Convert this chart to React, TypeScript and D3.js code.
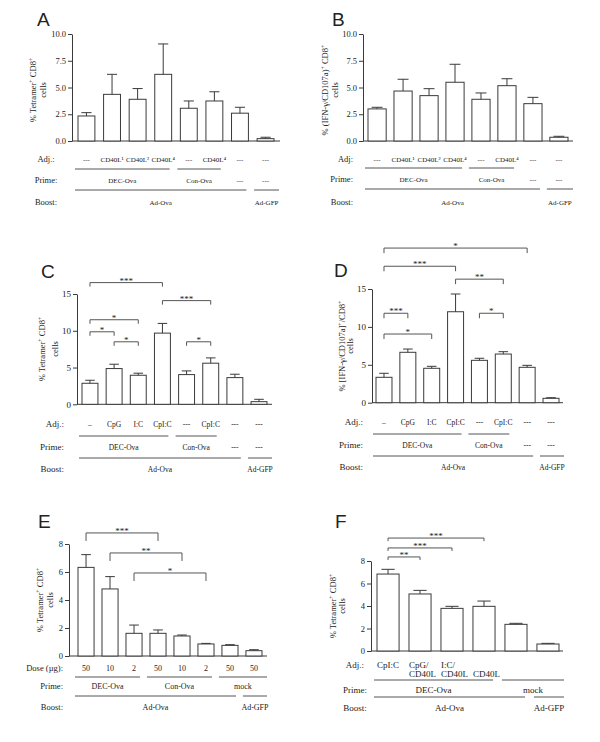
import React, { useEffect, useRef } from "react";
import * as d3 from "d3";

// ---------- data ----------
// A: % Tetramer+ CD8+
const aMeans = [2.34, 4.36, 3.9, 6.23, 3.06, 3.74, 2.6, 0.22];
const aErrors = [0.31, 1.87, 1.0, 2.84, 0.68, 0.86, 0.55, 0.13];
const aAdj = ["---", "CD40L¹", "CD40L²", "CD40L⁴", "---", "CD40L⁴", "---", "---"];

// B: % (IFN-g/CD107a)+ CD8+
const bMeans = [3.0, 4.67, 4.24, 5.49, 3.9, 5.17, 3.49, 0.35];
const bErrors = [0.15, 1.1, 0.65, 1.68, 0.59, 0.65, 0.59, 0.09];
const bAdj = ["---", "CD40L¹", "CD40L²", "CD40L⁴", "---", "CD40L⁴", "---", "---"];

// C: % Tetramer+ CD8+
const cMeans = [2.86, 4.86, 3.95, 9.68, 4.04, 5.59, 3.63, 0.36];
const cErrors = [0.41, 0.59, 0.28, 1.32, 0.5, 0.72, 0.46, 0.32];
const cAdj = ["–", "CpG", "I:C", "CpI:C", "---", "CpI:C", "---", "---"];

// D: % [IFN-g/CD107a]+/CD8+
const dMeans = [3.35, 6.65, 4.54, 12.0, 5.59, 6.42, 4.67, 0.58];
const dErrors = [0.53, 0.43, 0.26, 2.34, 0.27, 0.31, 0.26, 0.08];
const dAdj = ["–", "CpG", "I:C", "CpI:C", "---", "CpI:C", "---", "---"];

// E: dose titration
const eMeans = [6.33, 4.79, 1.62, 1.62, 1.43, 0.86, 0.76, 0.38];
const eErrors = [0.91, 0.88, 0.59, 0.24, 0.07, 0.04, 0.05, 0.07];
const eDose = ["50", "10", "2", "50", "10", "2", "50", "50"];

// F: adjuvant combinations
const fMeans = [6.84, 5.07, 3.79, 3.97, 2.37, 0.62];
const fErrors = [0.42, 0.32, 0.18, 0.47, 0.09, 0.06];
const fAdj = ["CpI:C", "CpG/\nCD40L", "I:C/\nCD40L", "\nCD40L", "", ""];

type Group = { label: string; from: number; to: number; line: boolean };
type Bracket = { from: number; to: number; at: number; label: string };

const primeAB: Group[] = [
  { label: "DEC-Ova", from: 0, to: 3, line: true },
  { label: "Con-Ova", from: 4, to: 5, line: true },
  { label: "---", from: 6, to: 6, line: false },
  { label: "---", from: 7, to: 7, line: false },
];
const boostAD: Group[] = [
  { label: "Ad-Ova", from: 0, to: 6, line: true },
  { label: "Ad-GFP", from: 7, to: 7, line: true },
];
const primeE: Group[] = [
  { label: "DEC-Ova", from: 0, to: 2, line: true },
  { label: "Con-Ova", from: 3, to: 5, line: true },
  { label: "mock", from: 6, to: 7, line: true },
];
const primeF: Group[] = [
  { label: "DEC-Ova", from: 0, to: 3, line: true },
  { label: "mock", from: 4, to: 5, line: true },
];
const boostF: Group[] = [
  { label: "Ad-Ova", from: 0, to: 4, line: true },
  { label: "Ad-GFP", from: 5, to: 5, line: true },
];

const cBrackets: Bracket[] = [
  { from: 0, to: 3, at: 16.55, label: "***" },
  { from: 3, to: 5, at: 14.1, label: "***" },
  { from: 0, to: 2, at: 11.5, label: "*" },
  { from: 0, to: 1, at: 9.86, label: "*" },
  { from: 1, to: 2, at: 8.5, label: "*" },
  { from: 4, to: 5, at: 8.5, label: "*" },
];
const dBrackets: Bracket[] = [
  { from: 0, to: 6, at: 20.4, label: "*" },
  { from: 0, to: 3, at: 18.0, label: "***" },
  { from: 3, to: 5, at: 16.3, label: "**" },
  { from: 0, to: 1, at: 11.8, label: "***" },
  { from: 0, to: 2, at: 9.06, label: "*" },
  { from: 4, to: 5, at: 11.8, label: "*" },
];
const eBrackets: Bracket[] = [
  { from: 0, to: 3, at: 8.79, label: "***" },
  { from: 1, to: 4, at: 7.36, label: "**" },
  { from: 2, to: 5, at: 5.93, label: "*" },
];
const fBrackets: Bracket[] = [
  { from: 0, to: 3, at: 10.04, label: "***" },
  { from: 0, to: 2, at: 9.16, label: "***" },
  { from: 0, to: 1, at: 8.36, label: "**" },
];

const SERIF = "'Liberation Serif', 'Times New Roman', serif";
const SANS = "'Liberation Sans', Arial, sans-serif";
const INK = "#3a3a3a";
const TEXT = "#222";

// "^" toggles superscript
function sup(s: string) {
  return s.split("^").map((t, i) =>
    i % 2 ? (
      <tspan key={i} baselineShift="super" fontSize="70%">{t}</tspan>
    ) : (
      <tspan key={i}>{t}</tspan>
    )
  );
}

interface PanelProps {
  letter: string; letterX: number; letterY: number;
  means: number[]; errors: number[];
  yMax: number; yTicks: number[]; tickFormat: string;
  axisX: number; axisEnd: number; y0: number; yTop: number;
  barLeft: number; barRight: number; padding: number;
  yLabel: string[]; yLabelX: number[]; yLabelY: number;
  rowNames: string[]; rowNameX: number; rowNameAnchor: string;
  rowY: number[]; // adj, adj 2nd line, prime line, prime, boost line, boost
  adj: string[]; adjAnchor: string;
  prime: Group[]; boost: Group[];
  brackets: Bracket[]; tickLen: number;
  tickFont: number; rowFont: number; labelFont: number; yLabelFont: number;
}

function Panel(p: PanelProps) {
  const axisRef = useRef<SVGGElement>(null);
  const n = p.means.length;
  const y = d3.scaleLinear().domain([0, p.yMax]).range([p.y0, p.yTop]);
  const x = d3.scaleBand<number>().domain(d3.range(n)).range([p.barLeft, p.barRight]).paddingInner(p.padding).paddingOuter(0);
  const bw = x.bandwidth();
  const cx = (i: number) => (x(i) as number) + bw / 2;

  useEffect(() => {
    const g = d3.select(axisRef.current);
    g.call(
      d3.axisLeft(y)
        .tickValues(p.yTicks)
        .tickFormat(d3.format(p.tickFormat) as any)
        .tickSize(4)
        .tickSizeOuter(0)
        .tickPadding(2)
    );
    g.attr("font-family", SERIF).attr("font-size", p.tickFont);
    g.selectAll("path, line").attr("stroke", INK);
    g.selectAll("text").attr("fill", TEXT);
  }, [p]);

  const groupLine = (gr: Group) => {
    const start = (x(gr.from) as number) - 3;
    const end = (x(gr.to) as number) + bw + (gr.to === n - 1 ? 5 : -2);
    return [start, end];
  };

  const groups = (list: Group[], lineY: number, textY: number, key: string) =>
    list.map((gr, i) => {
      const [s, e] = groupLine(gr);
      const mid = gr.line ? (s + e) / 2 : cx(gr.from);
      return (
        <g key={key + i}>
          {gr.line && <line x1={s} x2={e} y1={lineY} y2={lineY} stroke="#555" strokeWidth={1} />}
          <text x={mid} y={textY} textAnchor="middle" fontSize={p.labelFont}>{gr.label}</text>
        </g>
      );
    });

  return (
    <g fontFamily={SERIF} fill={TEXT}>
      <text x={p.letterX} y={p.letterY} fontFamily={SANS} fontSize={19}>{p.letter}</text>
      <g ref={axisRef} transform={`translate(${p.axisX},0)`} />
      <line x1={p.axisX} x2={p.axisEnd} y1={p.y0} y2={p.y0} stroke={INK} />
      {p.yLabel.map((l, i) => (
        <text key={i} transform={`translate(${p.yLabelX[i]},${p.yLabelY}) rotate(-90)`} textAnchor="middle" fontSize={p.yLabelFont}>
          {sup(l)}
        </text>
      ))}
      {p.means.map((m, i) => {
        const top = y(m);
        const et = y(m + p.errors[i]);
        const c = cx(i);
        const cap = bw * 0.3;
        return (
          <g key={i}>
            <rect x={x(i)} y={top} width={bw} height={p.y0 - top} fill="#fff" stroke={INK} />
            <line x1={c} x2={c} y1={top} y2={et} stroke={INK} />
            <line x1={c - cap} x2={c + cap} y1={et} y2={et} stroke={INK} />
          </g>
        );
      })}
      {p.brackets.map((b, i) => {
        const by = y(b.at);
        const x1 = cx(b.from);
        const x2 = cx(b.to);
        return (
          <g key={"b" + i}>
            <path d={`M${x1},${by + p.tickLen}V${by}H${x2}V${by + p.tickLen}`} fill="none" stroke="#555" />
            <text x={(x1 + x2) / 2} y={by + 1} textAnchor="middle" fontSize={9}>{b.label}</text>
          </g>
        );
      })}
      {p.rowNames.map((r, i) => (
        <text key={"r" + i} x={p.rowNameX} y={[p.rowY[0], p.rowY[3], p.rowY[5]][i]} textAnchor={p.rowNameAnchor as any} fontSize={p.rowFont}>
          {r}
        </text>
      ))}
      {p.adj.map((a, i) =>
        a.split("\n").map((part, j) => (
          <text
            key={"a" + i + "-" + j}
            x={p.adjAnchor === "start" ? (x(i) as number) : cx(i)}
            y={p.rowY[j]}
            textAnchor={p.adjAnchor as any}
            fontSize={p.labelFont}
          >
            {part}
          </text>
        ))
      )}
      {groups(p.prime, p.rowY[2], p.rowY[3], "p")}
      {groups(p.boost, p.rowY[4], p.rowY[5], "q")}
    </g>
  );
}

const tetLabel = ["% Tetramer^+^ CD8^+", "cells"];

const panels: PanelProps[] = [
  {
    letter: "A", letterX: 37, letterY: 26, means: aMeans, errors: aErrors,
    yMax: 10, yTicks: [0, 2.5, 5, 7.5, 10], tickFormat: ".1f",
    axisX: 72, axisEnd: 280, y0: 141, yTop: 34, barLeft: 78, barRight: 274, padding: 0.34,
    yLabel: tetLabel, yLabelX: [36, 46], yLabelY: 90,
    rowNames: ["Adj.:", "Prime:", "Boost:"], rowNameX: 46, rowNameAnchor: "middle",
    rowY: [162, 171, 169, 183, 190, 205], adj: aAdj, adjAnchor: "middle",
    prime: primeAB, boost: boostAD, brackets: [], tickLen: 4,
    tickFont: 8.5, rowFont: 8.5, labelFont: 7, yLabelFont: 8.5,
  },
  {
    letter: "B", letterX: 332, letterY: 26, means: bMeans, errors: bErrors,
    yMax: 10, yTicks: [0, 2.5, 5, 7.5, 10], tickFormat: ".1f",
    axisX: 363, axisEnd: 573, y0: 141, yTop: 34, barLeft: 368, barRight: 568, padding: 0.3,
    yLabel: ["% (IFN-γ/CD107a)^+^ CD8^+", "cells"], yLabelX: [328, 338], yLabelY: 90,
    rowNames: ["Adj:", "Prime:", "Boost:"], rowNameX: 353, rowNameAnchor: "end",
    rowY: [162, 171, 168, 182, 189, 205], adj: bAdj, adjAnchor: "middle",
    prime: primeAB, boost: boostAD, brackets: [], tickLen: 4,
    tickFont: 8.5, rowFont: 8.5, labelFont: 7, yLabelFont: 8.5,
  },
  {
    letter: "C", letterX: 41, letterY: 278, means: cMeans, errors: cErrors,
    yMax: 15, yTicks: [0, 5, 10, 15], tickFormat: "d",
    axisX: 77, axisEnd: 272, y0: 404.3, yTop: 294, barLeft: 82, barRight: 267, padding: 0.34,
    yLabel: tetLabel, yLabelX: [45, 58], yLabelY: 349,
    rowNames: ["Adj.:", "Prime:", "Boost:"], rowNameX: 64, rowNameAnchor: "end",
    rowY: [427, 436, 436, 450, 458, 472], adj: cAdj, adjAnchor: "middle",
    prime: primeAB, boost: boostAD, brackets: cBrackets, tickLen: 4,
    tickFont: 9, rowFont: 9, labelFont: 7.5, yLabelFont: 8.5,
  },
  {
    letter: "D", letterX: 334, letterY: 277, means: dMeans, errors: dErrors,
    yMax: 15, yTicks: [0, 5, 10, 15], tickFormat: "d",
    axisX: 372, axisEnd: 563, y0: 402.7, yTop: 289, barLeft: 376, barRight: 559, padding: 0.33,
    yLabel: ["% [IFN-γ/CD107a]^+^/CD8^+", "cells"], yLabelX: [345, 353], yLabelY: 346,
    rowNames: ["Adj.:", "Prime:", "Boost:"], rowNameX: 363, rowNameAnchor: "end",
    rowY: [425, 434, 434, 448, 456, 470], adj: dAdj, adjAnchor: "middle",
    prime: primeAB, boost: boostAD, brackets: dBrackets, tickLen: 5,
    tickFont: 9, rowFont: 9, labelFont: 7.5, yLabelFont: 8.5,
  },
  {
    letter: "E", letterX: 38, letterY: 528, means: eMeans, errors: eErrors,
    yMax: 8, yTicks: [0, 2, 4, 6, 8], tickFormat: "d",
    axisX: 69, axisEnd: 267, y0: 656, yTop: 544, barLeft: 78, barRight: 262, padding: 0.33,
    yLabel: tetLabel, yLabelX: [43, 53], yLabelY: 600,
    rowNames: ["Dose (µg):", "Prime:", "Boost:"], rowNameX: 63, rowNameAnchor: "end",
    rowY: [671, 680, 677, 689, 696, 710], adj: eDose, adjAnchor: "middle",
    prime: primeE, boost: boostAD, brackets: eBrackets, tickLen: 8,
    tickFont: 8.5, rowFont: 8.5, labelFont: 8, yLabelFont: 8.5,
  },
  {
    letter: "F", letterX: 335, letterY: 528, means: fMeans, errors: fErrors,
    yMax: 8, yTicks: [0, 2, 4, 6, 8], tickFormat: "d",
    axisX: 371, axisEnd: 563, y0: 651, yTop: 561, barLeft: 377, barRight: 559, padding: 0.31,
    yLabel: tetLabel, yLabelX: [336, 345], yLabelY: 606,
    rowNames: ["Adj.:", "Prime:", "Boost:"], rowNameX: 355, rowNameAnchor: "middle",
    rowY: [668, 677, 680, 693, 697, 711], adj: fAdj, adjAnchor: "start",
    prime: primeF, boost: boostF, brackets: fBrackets, tickLen: 3,
    tickFont: 8.5, rowFont: 9, labelFont: 9, yLabelFont: 8.5,
  },
];

export default function App() {
  return (
    <svg width={600} height={742} style={{ position: "absolute", left: 0, top: 0, display: "block" }}>
      <rect width={600} height={742} fill="#fff" />
      {panels.map((p) => (
        <Panel key={p.letter} {...p} />
      ))}
    </svg>
  );
}
